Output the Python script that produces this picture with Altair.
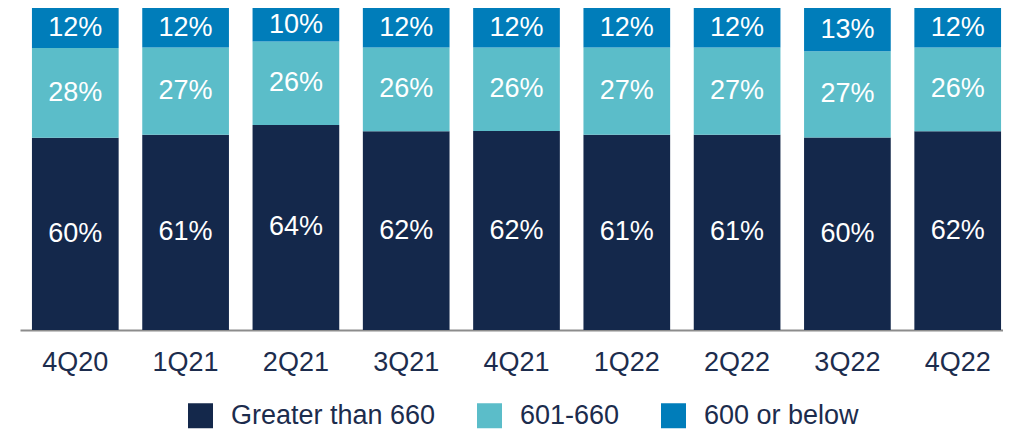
import altair as alt
import pandas as pd

quarters = ["4Q20", "1Q21", "2Q21", "3Q21", "4Q21", "1Q22", "2Q22", "3Q22", "4Q22"]
gt660 = [59.7, 60.6, 63.7, 61.7, 61.8, 60.6, 60.6, 59.8, 61.7]
r601_660 = [27.9, 27.1, 25.9, 26.0, 25.9, 27.1, 27.1, 26.8, 26.0]
le600 = [12.4, 12.3, 10.4, 12.3, 12.3, 12.3, 12.3, 13.4, 12.3]
series = ["Greater than 660", "601-660", "600 or below"]
colors = ["#14284b", "#5bbdc9", "#007dba"]

rows = []
for i, q in enumerate(quarters):
    for k, (name, vals) in enumerate(zip(series, [gt660, r601_660, le600])):
        rows.append({"quarter": q, "series": name, "ord": k, "value": vals[i]})
df = pd.DataFrame(rows)

FONT = "Liberation Sans"
NAVY_TEXT = "#1c2c4d"

base = alt.Chart(df).transform_stack(
    stack="value", groupby=["quarter"], sort=[alt.SortField("ord", order="ascending")], as_=["v0", "v1"]
).transform_calculate(
    mid="(datum.v0 + datum.v1) / 2",
    label="round(datum.value) + '%'",
)

x_scale = alt.Scale(paddingInner=0.214, paddingOuter=0.063, align=0.86, round=False)

x_enc = alt.X(
    "quarter:N",
    sort=quarters,
    scale=x_scale,
    axis=alt.Axis(
        title=None,
        labelAngle=0,
        labelFont=FONT,
        labelFontSize=27,
        labelColor=NAVY_TEXT,
        labelPadding=19,
        ticks=False,
        tickSize=0,
        domainColor="#8c8c8c",
        domainWidth=2,
        grid=False,
    ),
)

bars = base.mark_bar().encode(
    x=x_enc,
    y=alt.Y("v0:Q", scale=alt.Scale(domain=[0, 100], nice=False), axis=None),
    y2="v1:Q",
    color=alt.Color(
        "series:N",
        scale=alt.Scale(domain=series, range=colors),
        legend=alt.Legend(
            title=None,
            orient="none",
            direction="horizontal",
            legendX=167,
            legendY=394,
            symbolType="square",
            symbolSize=625,
            symbolStrokeWidth=0,
            symbolOpacity=1,
            labelFont=FONT,
            labelFontSize=27,
            labelColor=NAVY_TEXT,
            labelOffset=17,
            labelLimit=0,
            columnPadding=40,
            padding=0,
        ),
    ),
)

texts = base.mark_text(color="white", font=FONT, fontSize=27, baseline="middle", align="center").encode(
    x=alt.X("quarter:N", sort=quarters),
    y=alt.Y("mid:Q"),
    text="label:N",
)

chart = alt.layer(bars, texts).properties(
    width=983,
    height=322,
    autosize=alt.AutoSizeParams(type="none"),
    padding={"left": 12, "top": 0, "right": 0, "bottom": 99},
).configure_view(stroke=None)

chart.save("out.html", embed_options={"renderer": "svg", "actions": False})
